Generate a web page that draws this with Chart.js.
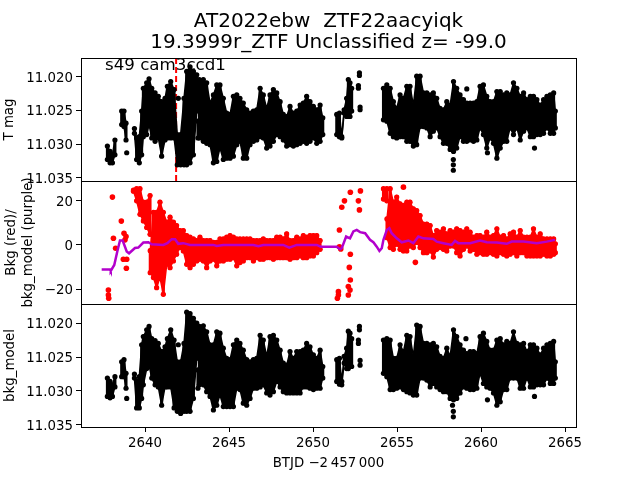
<!DOCTYPE html>
<html>
<head>
<meta charset="utf-8">
<style>
  html, body { margin: 0; padding: 0; background: #fff; }
  canvas { position: absolute; left: 0; top: 0; }
</style>
<script src="https://cdn.jsdelivr.net/npm/chart.js@4"></script>
</head>
<body>
<canvas id="top" width="640" height="480"></canvas>
<canvas id="middle" width="640" height="480"></canvas>
<canvas id="bottom" width="640" height="480"></canvas>
<script>
// tick labels
const timeTicks = [2640, 2645, 2650, 2655, 2660, 2665];
const magTicks = [11.020, 11.025, 11.030, 11.035];
const bkgTicks = [-20, 0, 20];

// light curve: spread of the points in each time bin (panels 1 and 3 share the bins)
const lcTime = [2637.76,2637.92,2638.06,2638.21,2638.61,2638.75,2638.87,2639.37,2639.50,2639.66,2639.80,2639.90,2640.10,2640.24,2640.40,2640.60,2640.79,2640.99,2641.19,2641.33,2641.53,2641.73,2641.92,2642.12,2642.32,2642.48,2642.68,2642.88,2643.08,2643.15,2643.23,2643.47,2643.67,2643.87,2644.07,2644.27,2644.46,2644.66,2644.86,2645.06,2645.26,2645.46,2645.65,2645.85,2646.05,2646.25,2646.45,2646.65,2646.85,2647.04,2647.24,2647.44,2647.64,2647.84,2648.04,2648.23,2648.43,2648.63,2648.83,2649.03,2649.23,2649.42,2649.62,2649.82,2650.02,2650.22,2650.42,2650.58,
  2651.41,2651.57,2651.71,2651.85,2652.00,2652.10,2652.20,2652.30,
  2654.19,2654.39,2654.59,2654.78,2654.98,2655.18,2655.38,2655.58,2655.77,2655.97,2656.17,2656.37,2656.57,2656.77,2656.97,2657.16,2657.36,2657.56,2657.76,2657.96,2658.16,2658.36,2658.55,2658.75,2658.95,2659.15,2659.35,2659.55,2659.75,2659.94,2660.14,2660.34,2660.54,2660.74,2660.94,2661.14,2661.34,2661.53,2661.73,2661.93,2662.13,2662.33,2662.53,2662.73,2662.93,2663.12,2663.32,2663.52,2663.72,2663.92,2664.12,2664.32,2664.42];

const magBright = [11.0303,11.0311,11.0316,11.0294,11.0251,11.0251,11.0269,11.0277,11.0291,11.0289,11.0251,11.0217,11.0209,11.0203,11.0217,11.0224,11.0229,11.0237,11.0232,11.0214,11.0207,11.0219,11.0286,11.0286,11.0232,11.0192,11.0185,11.0192,11.0197,11.0266,11.0204,11.0204,11.0209,11.0239,11.0227,11.0212,11.0212,11.0232,11.0254,11.0256,11.0229,11.0227,11.0232,11.0239,11.0249,11.0254,11.0251,11.0249,11.0217,11.0227,11.0247,11.0227,11.0219,11.0224,11.0237,11.0256,11.0259,11.0244,11.0254,11.0251,11.0242,11.0239,11.0229,11.0237,11.0244,11.0249,11.0242,11.0261,
  11.0256,11.0254,11.0289,11.0249,11.0232,11.0204,11.0209,11.0217,
  11.0217,11.0212,11.0217,11.0237,11.0247,11.0227,11.0232,11.0214,11.0214,11.0242,11.0199,11.0199,11.0224,11.0224,11.0227,11.0224,11.0232,11.0247,11.0249,11.0237,11.0242,11.0207,11.0217,11.0227,11.0234,11.0239,11.0239,11.0239,11.0237,11.0214,11.0212,11.0229,11.0237,11.0237,11.0222,11.0222,11.0227,11.0224,11.0227,11.0209,11.0217,11.0229,11.0224,11.0234,11.0229,11.0229,11.0234,11.0242,11.0234,11.0229,11.0227,11.0224,11.0251];
const magFaint = [11.0323,11.0328,11.0328,11.0316,11.0271,11.0274,11.0294,11.0284,11.0323,11.0328,11.0316,11.0289,11.0286,11.0271,11.0291,11.0296,11.0291,11.0318,11.0294,11.0291,11.0291,11.0291,11.0331,11.0331,11.0331,11.0331,11.0328,11.0316,11.0251,11.0291,11.0291,11.0296,11.0299,11.0301,11.0328,11.0326,11.0306,11.0323,11.0321,11.0321,11.0318,11.0301,11.0296,11.0321,11.0321,11.0301,11.0296,11.0294,11.0289,11.0291,11.0306,11.0303,11.0296,11.0286,11.0289,11.0294,11.0303,11.0301,11.0303,11.0301,11.0299,11.0296,11.0299,11.0296,11.0291,11.0299,11.0296,11.0286,
  11.0286,11.0289,11.0291,11.0254,11.0259,11.0259,11.0259,11.0251,
  11.0264,11.0266,11.0284,11.0289,11.0291,11.0289,11.0289,11.0296,11.0296,11.0303,11.0301,11.0274,11.0274,11.0276,11.0289,11.0281,11.0276,11.0289,11.0299,11.0299,11.0308,11.0311,11.0306,11.0289,11.0296,11.0296,11.0294,11.0296,11.0294,11.0276,11.0286,11.0306,11.0291,11.0299,11.0321,11.0306,11.0296,11.0296,11.0276,11.0286,11.0276,11.0294,11.0281,11.0276,11.0289,11.0289,11.0286,11.0286,11.0284,11.0276,11.0284,11.0284,11.0276];
const strayTime = [2638.91,2641.98,2652.70,2652.70,2652.76,2652.76,2652.80,2652.80,2658.35,2658.35,2658.35,2659.15,2660.38,2663.18];
const strayMag = [11.0313,11.0232,11.0213,11.0217,11.0194,11.0198,11.0245,11.0249,11.0323,11.0331,11.0339,11.0218,11.0313,11.0306];

const modelBright = [11.0281,11.0286,11.0291,11.0279,11.0257,11.0254,11.0274,11.0275,11.0286,11.0279,11.0232,11.0220,11.0210,11.0205,11.0223,11.0226,11.0230,11.0242,11.0235,11.0223,11.0210,11.0225,11.0257,11.0257,11.0230,11.0184,11.0186,11.0193,11.0200,11.0269,11.0205,11.0204,11.0213,11.0232,11.0232,11.0213,11.0215,11.0237,11.0252,11.0254,11.0232,11.0225,11.0230,11.0240,11.0254,11.0257,11.0254,11.0252,11.0218,11.0225,11.0249,11.0220,11.0218,11.0225,11.0240,11.0259,11.0262,11.0242,11.0252,11.0242,11.0242,11.0240,11.0230,11.0235,11.0247,11.0252,11.0240,11.0264,
  11.0254,11.0252,11.0286,11.0249,11.0237,11.0212,11.0215,11.0223,
  11.0225,11.0223,11.0225,11.0252,11.0252,11.0232,11.0242,11.0218,11.0220,11.0249,11.0203,11.0205,11.0230,11.0230,11.0232,11.0230,11.0235,11.0249,11.0252,11.0237,11.0249,11.0210,11.0220,11.0232,11.0240,11.0245,11.0242,11.0242,11.0245,11.0220,11.0215,11.0227,11.0240,11.0240,11.0225,11.0223,11.0232,11.0227,11.0230,11.0213,11.0230,11.0232,11.0230,11.0242,11.0232,11.0232,11.0237,11.0247,11.0237,11.0232,11.0230,11.0227,11.0257];
const modelFaint = [11.0308,11.0310,11.0308,11.0294,11.0279,11.0279,11.0296,11.0281,11.0325,11.0325,11.0311,11.0291,11.0267,11.0262,11.0281,11.0291,11.0294,11.0321,11.0294,11.0294,11.0294,11.0325,11.0330,11.0333,11.0330,11.0330,11.0330,11.0311,11.0252,11.0296,11.0291,11.0291,11.0301,11.0308,11.0328,11.0321,11.0306,11.0323,11.0323,11.0323,11.0323,11.0296,11.0298,11.0318,11.0321,11.0311,11.0296,11.0296,11.0294,11.0291,11.0303,11.0306,11.0301,11.0286,11.0294,11.0301,11.0303,11.0303,11.0303,11.0303,11.0303,11.0294,11.0294,11.0296,11.0298,11.0296,11.0296,11.0281,
  11.0286,11.0290,11.0291,11.0259,11.0267,11.0267,11.0264,11.0264,
  11.0274,11.0279,11.0298,11.0298,11.0296,11.0294,11.0298,11.0301,11.0303,11.0306,11.0306,11.0281,11.0281,11.0284,11.0294,11.0289,11.0294,11.0298,11.0301,11.0301,11.0311,11.0313,11.0311,11.0303,11.0294,11.0296,11.0298,11.0298,11.0296,11.0274,11.0289,11.0294,11.0296,11.0303,11.0321,11.0316,11.0298,11.0298,11.0281,11.0281,11.0281,11.0296,11.0296,11.0281,11.0294,11.0294,11.0291,11.0291,11.0291,11.0281,11.0289,11.0289,11.0281];
const strayModelTime = [2638.91,2641.98,2652.70,2652.70,2652.76,2652.76,2652.80,2652.80,2658.30,2658.35,2658.35,2659.10,2660.38,2663.18];
const strayModel = [11.0311,11.0232,11.0225,11.0230,11.0205,11.0210,11.0255,11.0262,11.0321,11.0330,11.0338,11.0223,11.0313,11.0308];

// background flux: spread per time bin
const bkgTime = [2639.31,2639.50,2639.70,2639.90,2640.10,2640.30,2640.31,2640.50,2640.69,2640.89,2641.09,2641.29,2641.49,2641.69,2641.88,2642.08,2642.28,2642.48,2642.68,2642.88,2643.08,2643.27,2643.47,2643.67,2643.87,2644.07,2644.27,2644.46,2644.66,2644.86,2645.06,2645.26,2645.46,2645.65,2645.85,2646.05,2646.25,2646.45,2646.65,2646.85,2647.04,2647.24,2647.44,2647.64,2647.84,2648.04,2648.23,2648.43,2648.63,2648.83,2649.03,2649.23,2649.42,2649.62,2649.82,2650.02,2650.22,2650.42,
  2654.19,2654.39,2654.40,2654.59,2654.78,2654.98,2655.18,2655.38,2655.58,2655.77,2655.97,2656.17,2656.37,2656.57,2656.77,2656.97,2657.16,2657.36,2657.56,2657.76,2657.96,2658.16,2658.36,2658.55,2658.75,2658.95,2659.15,2659.35,2659.55,2659.75,2659.94,2660.14,2660.34,2660.54,2660.74,2660.94,2661.14,2661.34,2661.53,2661.73,2661.93,2662.13,2662.33,2662.53,2662.73,2662.93,2663.12,2663.32,2663.52,2663.72,2663.92,2664.12,2664.32,2664.42];
const bkgHigh = [24.9,25.5,25.5,19.4,19.4,22.4,-2.6,14.8,14.8,19.4,14.8,10.3,12.6,10.3,8.8,6.5,6.5,4.2,3.5,2.7,2.0,3.5,2.0,2.0,2.0,1.2,1.2,2.7,2.7,3.5,4.2,3.5,2.7,2.7,2.7,2.7,2.7,2.0,2.0,2.0,2.7,2.0,2.0,2.0,3.5,3.5,2.7,5.0,2.0,2.0,3.5,2.7,4.2,3.5,4.2,4.2,4.2,2.0,
  25.5,25.5,11.8,25.5,19.4,21.7,18.6,17.9,19.4,19.4,16.4,15.6,13.3,9.5,9.5,8.8,4.2,6.5,5.8,7.3,5.0,6.5,5.8,7.3,6.5,5.8,7.3,5.8,3.5,4.2,4.2,3.5,5.8,3.5,4.2,7.3,3.5,4.2,2.7,5.0,5.8,3.5,6.5,3.5,3.5,3.5,7.3,3.5,5.0,2.7,2.7,2.7,2.7,0.5];
const bkgLow = [24.4,20.0,13.9,10.9,7.9,4.8,-12.6,-14.8,-19.4,-14.8,-22.4,-8.8,-10.3,-7.3,-4.2,-1.2,-2.7,-8.8,-10.3,-8.8,-7.3,-6.5,-7.3,-10.3,-7.3,-6.5,-9.5,-7.3,-7.3,-6.5,-6.5,-5.8,-9.5,-8.0,-7.3,-5.8,-5.8,-7.3,-5.8,-6.5,-6.5,-5.8,-5.8,-6.5,-5.8,-5.8,-5.8,-5.8,-6.5,-5.8,-5.8,-5.0,-5.8,-5.8,-5.0,-5.0,-3.5,-2.0,
  20.8,20.0,3.3,-1.2,-2.0,0.3,-2.0,-2.7,-2.7,-0.5,-1.2,1.1,-1.2,-3.5,-3.5,-2.7,-5.5,-2.0,-1.2,-2.0,-2.7,-0.5,-0.5,-3.5,-5.0,-2.0,-0.5,-2.7,-2.0,-4.2,-3.5,-4.2,-4.2,-3.5,-4.2,-5.0,-3.5,-4.2,-5.0,-4.2,-3.5,-5.0,-3.5,-3.5,-5.0,-5.0,-5.0,-5.0,-5.0,-4.2,-5.0,-5.0,-4.2,-3.5];
const strayBkgTime = [2637.82,2637.82,2637.84,2638.06,2638.12,2638.25,2638.59,2638.71,2638.75,2638.81,2638.87,2638.89,2638.91,2651.45,2651.51,2651.51,2651.57,2651.57,2651.65,2651.71,2651.87,2652.10,2652.10,2652.16,2652.20,2652.22,2652.22,2652.22,2652.70,2652.76,2652.82,2655.38,2656.09];
const strayBkg = [-20.5,-22.7,-24.2,21.7,3.0,-1.5,10.8,-6.5,5.3,2.3,3.8,-10.6,-6.5,-24.2,-21.2,-22.7,6.8,-0.8,-1.8,17.1,20.0,-18.9,-22.7,-10.2,-20.5,23.9,-4.2,-15.9,20.0,15.9,24.5,26.2,-7.9];

// background model line
const modelTime = [2637.42,2637.92,2637.96,2638.17,2638.35,2638.51,2638.67,2638.91,2639.05,2639.27,2639.40,2639.60,2639.90,2640.20,2640.40,2641.09,2641.33,2641.59,2641.79,2641.98,2642.28,2642.68,2644.07,2644.27,2644.66,2646.45,2646.75,2647.04,2648.23,2648.59,2649.03,2650.22,2650.46,2651.41,2651.61,2651.71,2651.97,2652.20,2652.40,2652.60,2652.80,2653.10,2653.39,2653.59,2653.79,2653.95,2654.09,2654.19,2654.39,2654.54,2654.68,2654.98,2655.28,2655.68,2655.97,2656.27,2656.57,2657.16,2657.36,2657.76,2658.25,2658.45,2658.65,2659.35,2659.94,2660.34,2660.93,2661.53,2661.83,2662.52,2663.31,2663.91,2664.40];
const modelBkg = [-11.1,-11.1,-11.8,-9.1,-3.0,2.0,2.0,-3.0,-3.8,-2.3,-1.4,-1.2,1.1,1.2,0.3,0.0,0.8,2.6,2.6,0.5,0.8,0.0,0.0,-0.5,0.0,0.0,-0.6,0.0,0.0,-1.2,0.0,0.0,-0.8,-0.8,-2.0,-1.5,3.8,3.0,6.1,6.8,5.8,5.3,2.3,1.2,-0.8,-2.7,-1.5,2.3,6.8,7.6,5.3,3.0,1.2,2.0,0.8,3.8,3.0,2.7,1.5,0.8,0.0,1.8,0.8,0.8,2.0,1.2,1.1,0.5,1.5,1.5,0.8,1.5,2.3];

const eventTime = [2641.85, 2641.85];
const eventMag = [11.0172, 11.0355];

function spread(times, highs, lows) {
  const pts = [];
  times.forEach((x, i) => {
    pts.push({x: x, y: highs[i]}, {x: x, y: lows[i]}, {x: x, y: NaN});
  });
  return pts;
}

// one side of the band, broken where the bins jump
function edge(times, vals) {
  const pts = [];
  times.forEach((x, i) => {
    if (i > 0) {
      const d = x - times[i - 1];
      if (d > 0.3 || d < 0.09) pts.push({x: x, y: NaN});
    }
    pts.push({x: x, y: vals[i]});
  });
  return pts;
}

function xy(times, vals) {
  return times.map((x, i) => ({x: x, y: vals[i]}));
}

function band(times, highs, lows, color, order) {
  const side = {type: 'scatter', order: order, showLine: true, borderColor: color, borderWidth: 1.5, borderJoinStyle: 'round', backgroundColor: color, pointRadius: 2.6, pointBorderWidth: 0};
  return [
    Object.assign({}, side, {fill: '+1', data: edge(times, highs)}),
    Object.assign({}, side, {data: edge(times, lows)})
  ];
}

const frame = {
  id: 'frame',
  afterDraw(chart) {
    const a = chart.chartArea;
    const ctx = chart.ctx;
    ctx.save();
    ctx.strokeStyle = '#000';
    ctx.lineWidth = 1;
    ctx.strokeRect(Math.round(a.left) + 0.5, Math.round(a.top) + 0.5, Math.round(a.right - a.left), Math.round(a.bottom - a.top));
    ctx.restore();
  }
};

const sectorLabel = {
  id: 'sectorLabel',
  afterDraw(chart) {
    const ctx = chart.ctx;
    ctx.save();
    ctx.fillStyle = '#000';
    ctx.font = '16.67px "DejaVu Sans"';
    ctx.fillText('s49 cam3ccd1', chart.scales.x.getPixelForValue(2637.62), chart.scales.y.getPixelForValue(11.0190));
    ctx.restore();
  }
};

Chart.defaults.font.family = '"DejaVu Sans"';
Chart.defaults.font.size = 13.33;
Chart.defaults.color = '#000';
Chart.defaults.animation = false;
Chart.defaults.responsive = false;
Chart.defaults.plugins.legend.display = false;
Chart.defaults.plugins.tooltip.enabled = false;

function xScale(show) {
  return {
    type: 'linear',
    display: show,
    min: 2636.19,
    max: 2665.65,
    afterBuildTicks: s => { s.ticks = timeTicks.map(v => ({value: v})); },
    afterFit: s => { if (show) s.height = 53; },
    grid: {drawOnChartArea: false, tickLength: 5, tickColor: '#000'},
    border: {color: '#000'},
    ticks: {maxRotation: 0, padding: 4, callback: v => String(v)},
    title: {display: show, text: 'BTJD \u22122\u2009457\u2009000', padding: {top: 4, bottom: 8}}
  };
}

function yScale(opts) {
  return {
    type: 'linear',
    min: opts.min,
    max: opts.max,
    reverse: opts.reverse,
    afterBuildTicks: s => { s.ticks = opts.ticks.map(v => ({value: v})); },
    afterFit: s => { s.width = 81; },
    grid: {drawOnChartArea: false, tickLength: 5, tickColor: '#000'},
    border: {color: '#000'},
    ticks: {padding: 3, labelOffset: 1.5, callback: opts.format},
    title: {display: true, text: opts.title, padding: {top: opts.titleGap, bottom: 0}, font: {lineHeight: 1.28}}
  };
}

const magFormat = v => v.toFixed(3);
const bkgFormat = v => String(v).replace('-', '\u2212');

const blobStyle = {type: 'scatter', showLine: true, borderColor: '#000', backgroundColor: '#000', borderWidth: 3, borderCapStyle: 'round', pointRadius: 2, pointBorderWidth: 0};
const dotStyle = {type: 'scatter', showLine: false, backgroundColor: '#000', pointRadius: 2.6, pointBorderWidth: 0};

new Chart(document.getElementById('top'), {
  type: 'scatter',
  data: {
    datasets: [
      Object.assign({}, blobStyle, {order: 1, data: spread(lcTime, magBright, magFaint)}),
      Object.assign({}, dotStyle, {order: 1, data: xy(strayTime, strayMag)}),
      ...band(lcTime, magBright, magFaint, '#000', 1),
      {type: 'scatter', order: 2, showLine: true, pointRadius: 0, borderColor: '#f00', borderWidth: 2, borderDash: [6, 3], data: xy(eventTime, eventMag)}
    ]
  },
  options: {
    layout: {padding: {right: 64, bottom: 299}},
    plugins: {
      title: {
        display: true,
        fullSize: false,
        text: ['AT2022ebw  ZTF22aacyiqk', '19.3999r_ZTF Unclassified z= -99.0'],
        font: {size: 20, weight: 'normal', lineHeight: 1.05},
        padding: {top: 11, bottom: 5}
      }
    },
    scales: {
      x: xScale(false),
      y: yScale({min: 11.0172, max: 11.0355, reverse: true, ticks: magTicks, format: magFormat, title: 'T mag', titleGap: 1})
    }
  },
  plugins: [frame, sectorLabel]
});

new Chart(document.getElementById('middle'), {
  type: 'scatter',
  data: {
    datasets: [
      {type: 'scatter', order: 1, showLine: true, pointRadius: 0, borderColor: '#b300cc', borderWidth: 2.5, data: xy(modelTime, modelBkg)},
      {type: 'scatter', order: 2, showLine: true, borderColor: '#f00', backgroundColor: '#f00', borderWidth: 3, borderCapStyle: 'round', pointRadius: 2.3, pointBorderWidth: 0, data: spread(bkgTime, bkgHigh, bkgLow)},
      {type: 'scatter', order: 2, showLine: false, backgroundColor: '#f00', pointRadius: 2.8, pointBorderWidth: 0, data: xy(strayBkgTime, strayBkg)},
      ...band(bkgTime, bkgHigh, bkgLow, '#f00', 2)
    ]
  },
  options: {
    layout: {padding: {top: 181, right: 64, bottom: 176}},
    scales: {
      x: xScale(false),
      y: yScale({min: -26.8, max: 29, reverse: false, ticks: bkgTicks, format: bkgFormat, title: ['Bkg (red)/', 'bkg_model (purple)'], titleGap: 3})
    }
  },
  plugins: [frame]
});

new Chart(document.getElementById('bottom'), {
  type: 'scatter',
  data: {
    datasets: [
      Object.assign({}, blobStyle, {data: spread(lcTime, modelBright, modelFaint)}),
      Object.assign({}, dotStyle, {data: xy(strayModelTime, strayModel)}),
      ...band(lcTime, modelBright, modelFaint, '#000', 0)
    ]
  },
  options: {
    layout: {padding: {top: 304, right: 64}},
    scales: {
      x: xScale(true),
      y: yScale({min: 11.0172, max: 11.0353, reverse: true, ticks: magTicks, format: magFormat, title: 'bkg_model', titleGap: 2})
    }
  },
  plugins: [frame]
});
</script>
</body>
</html>
